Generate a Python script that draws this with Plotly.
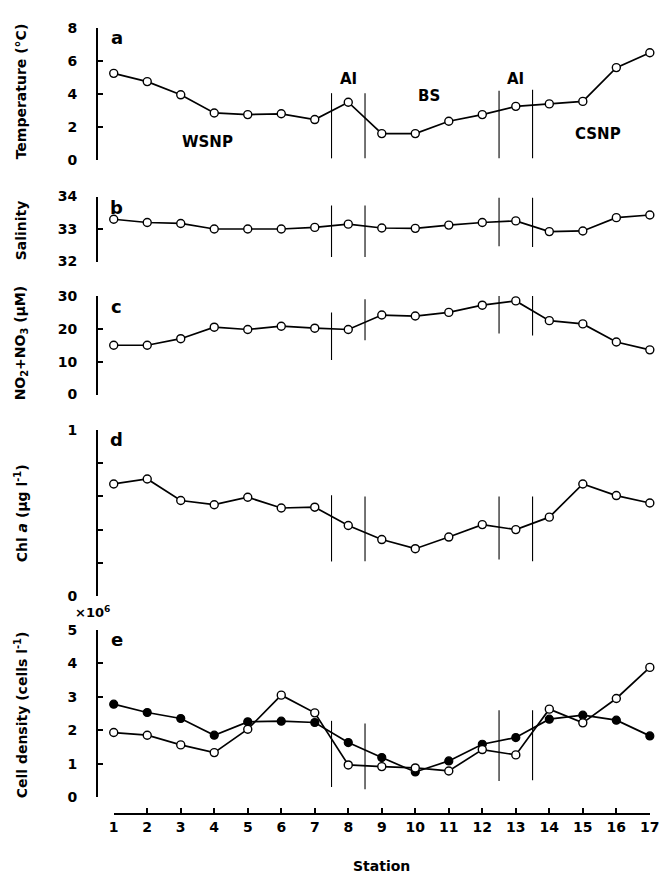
import plotly.graph_objects as go

# ---------------- data ----------------
stations = list(range(1, 18))
temperature = [5.25, 4.75, 3.95, 2.85, 2.75, 2.8, 2.45, 3.5, 1.6, 1.6, 2.35, 2.75, 3.25, 3.4, 3.55, 5.6, 6.5]
salinity = [33.3, 33.2, 33.17, 33.0, 33.0, 33.0, 33.05, 33.15, 33.03, 33.02, 33.12, 33.2, 33.25, 32.92, 32.94, 33.35, 33.43]
nitrate = [15.0, 15.0, 17.0, 20.5, 19.8, 20.8, 20.2, 19.8, 24.2, 23.9, 25.0, 27.2, 28.5, 22.5, 21.5, 16.0, 13.6]
chl_a = [0.675, 0.705, 0.575, 0.55, 0.595, 0.53, 0.535, 0.425, 0.34, 0.285, 0.355, 0.43, 0.40, 0.475, 0.675, 0.605, 0.56]
cells_filled = [2.78, 2.53, 2.35, 1.85, 2.25, 2.27, 2.23, 1.63, 1.18, 0.75, 1.08, 1.58, 1.78, 2.33, 2.45, 2.3, 1.83]
cells_open = [1.93, 1.85, 1.56, 1.33, 2.03, 3.05, 2.52, 0.96, 0.91, 0.87, 0.78, 1.42, 1.26, 2.63, 2.22, 2.95, 3.88]

# boundaries between water masses (station units) and their vertical extents per panel
boundaries = [7.5, 8.5, 12.5, 13.5]
bound_low = {
    "a": [0.1, 0.1, 0.1, 0.1],
    "b": [32.14, 32.14, 32.47, 32.45],
    "c": [10.5, 16.5, 18.6, 18.0],
    "d": [0.208, 0.21, 0.22, 0.21],
    "e": [0.3, 0.23, 0.48, 0.5],
}
bound_high = {
    "a": [4.05, 4.05, 4.2, 4.25],
    "b": [33.72, 33.72, 33.96, 33.96],
    "c": [25.0, 29.0, 32.8, 32.0],
    "d": [0.607, 0.6, 0.6, 0.6],
    "e": [2.28, 2.2, 2.6, 2.6],
}

region_labels = ["AI", "BS", "AI", "WSNP", "CSNP"]
region_x = [8.0, 10.4, 13.0, 3.8, 15.45]
region_y = [4.9, 3.85, 4.9, 1.1, 1.6]

panel_letters = ["a", "b", "c", "d", "e"]
panel_titles = [
    "Temperature (°C)",
    "Salinity",
    "NO<sub>2</sub>+NO<sub>3</sub> (µM)",
    "Chl <i>a</i> (µg l<sup>-1</sup>)",
    "Cell density (cells l<sup>-1</sup>)",
]
y_ranges = [[0, 8], [32, 34], [0, 30], [0, 1], [0, 5]]
y_tickvals = [[0, 2, 4, 6, 8], [32, 33, 34], [0, 10, 20, 30], [0, 0.2, 0.4, 0.6, 0.8, 1], [0, 1, 2, 3, 4, 5]]
y_ticktext = [["0", "2", "4", "6", "8"], ["32", "33", "34"], ["0", "10", "20", "30"],
              ["0", "", "", "", "", "1"], ["0", "1", "2", "3", "4", "5"]]

# ---------------- layout geometry ----------------
W, H = 671, 873
ML, MR, MT, MB = 90, 6, 20, 68
plot_w = W - ML - MR
plot_h = H - MT - MB
px_per_station = 34.1
x_left = 1 - 16 / px_per_station
x_right = x_left + plot_w / px_per_station


def ydom(top_px, bottom_px):
    return [(H - MB - bottom_px) / plot_h, (H - MB - top_px) / plot_h]


domains = [ydom(20, 152), ydom(188.5, 253.5), ydom(288, 386.5), ydom(422, 588), ydom(622, 789)]
title_centers_px = [83, 222, 335, 505, 707]

BLACK = "black"
FONT = "DejaVu Sans"

fig = go.Figure()

series = [temperature, salinity, nitrate, chl_a, cells_open]
keys = ["a", "b", "c", "d", "e"]

for i, key in enumerate(keys):
    yname = "y" if i == 0 else f"y{i+1}"
    # boundary lines
    for bx, lo, hi in zip(boundaries, bound_low[key], bound_high[key]):
        fig.add_trace(go.Scatter(x=[bx, bx], y=[lo, hi], mode="lines",
                                 line=dict(color=BLACK, width=1.1),
                                 xaxis="x", yaxis=yname, showlegend=False,
                                 hoverinfo="skip"))
    if key == "e":
        fig.add_trace(go.Scatter(x=stations, y=cells_filled, mode="lines+markers",
                                 line=dict(color=BLACK, width=1.7),
                                 marker=dict(symbol="circle", size=8, color=BLACK,
                                             line=dict(color=BLACK, width=1.2)),
                                 xaxis="x", yaxis=yname, showlegend=False, cliponaxis=False))
    fig.add_trace(go.Scatter(x=stations, y=series[i], mode="lines+markers",
                             line=dict(color=BLACK, width=1.7),
                             marker=dict(symbol="circle", size=8, color="white",
                                         line=dict(color=BLACK, width=1.4)),
                             xaxis="x", yaxis=yname, showlegend=False, cliponaxis=False))

# invisible trace that carries the separate station axis
fig.add_trace(go.Scatter(x=[stations[0], stations[-1]], y=[None, None], mode="markers",
                         xaxis="x2", yaxis="y6", showlegend=False, hoverinfo="skip"))

layout = dict(
    width=W, height=H,
    margin=dict(l=ML, r=MR, t=MT, b=MB),
    paper_bgcolor="white", plot_bgcolor="white",
    font=dict(family=FONT, size=14, color=BLACK, weight="bold"),
    showlegend=False,
    xaxis=dict(domain=[0, 1], range=[x_left, x_right], visible=False, anchor="y"),
    xaxis2=dict(
        domain=[(stations[0] - x_left) / (x_right - x_left), (stations[-1] - x_left) / (x_right - x_left)],
        range=[stations[0], stations[-1]], anchor="y6",
        showline=True, linecolor=BLACK, linewidth=1.8,
        ticks="inside", ticklen=5, tickwidth=1.5, tickcolor=BLACK,
        tickvals=stations, ticktext=[str(s) for s in stations],
        ticklabelstandoff=0,
        tickfont=dict(family=FONT, size=14, color=BLACK, weight="bold"),
        showgrid=False, zeroline=False,
    ),
    yaxis6=dict(domain=[0, 0.01], range=[0, 1], anchor="x2", visible=False),
)

for i in range(5):
    name = "yaxis" if i == 0 else f"yaxis{i+1}"
    layout[name] = dict(
        domain=domains[i], range=y_ranges[i], anchor="x",
        showline=True, linecolor=BLACK, linewidth=1.8,
        ticks="inside", ticklen=5, tickwidth=1.5, tickcolor=BLACK,
        tickvals=y_tickvals[i], ticktext=y_ticktext[i],
        ticklabelstandoff=16,
        tickfont=dict(family=FONT, size=14, color=BLACK, weight="bold"),
        showgrid=False, zeroline=False,
    )

fig.update_layout(**layout)

annotations = []
for i in range(5):
    yref_dom = "y domain" if i == 0 else f"y{i+1} domain"
    annotations.append(dict(text=panel_letters[i], xref="paper", yref=yref_dom,
                            x=(109 - ML) / plot_w, y=1.02, xanchor="center", yanchor="top",
                            showarrow=False,
                            font=dict(family=FONT, size=18, color=BLACK, weight="bold")))
    annotations.append(dict(text=panel_titles[i], xref="paper", yref="paper",
                            x=(12 - ML) / plot_w, y=(H - MB - title_centers_px[i]) / plot_h,
                            xanchor="center", yanchor="middle", textangle=-90,
                            showarrow=False,
                            font=dict(family=FONT, size=14, color=BLACK, weight="bold")))

for txt, rx, ry in zip(region_labels, region_x, region_y):
    annotations.append(dict(text=txt, xref="x", yref="y", x=rx, y=ry,
                            xanchor="center", yanchor="middle", showarrow=False,
                            font=dict(family=FONT, size=15, color=BLACK, weight="bold")))

annotations.append(dict(text="×10<sup>6</sup>", xref="paper", yref="paper",
                        x=(84 - ML) / plot_w, y=(H - MB - 604) / plot_h,
                        xanchor="center", yanchor="middle", showarrow=False,
                        font=dict(family=FONT, size=13, color=BLACK, weight="bold")))
annotations.append(dict(text="Station", xref="x", yref="paper",
                        x=9, y=(H - MB - 858) / plot_h, borderpad=0,
                        xanchor="center", yanchor="middle", showarrow=False,
                        font=dict(family=FONT, size=14, color=BLACK, weight="bold")))

fig.update_layout(annotations=annotations)

fig.write_html("out.html")
